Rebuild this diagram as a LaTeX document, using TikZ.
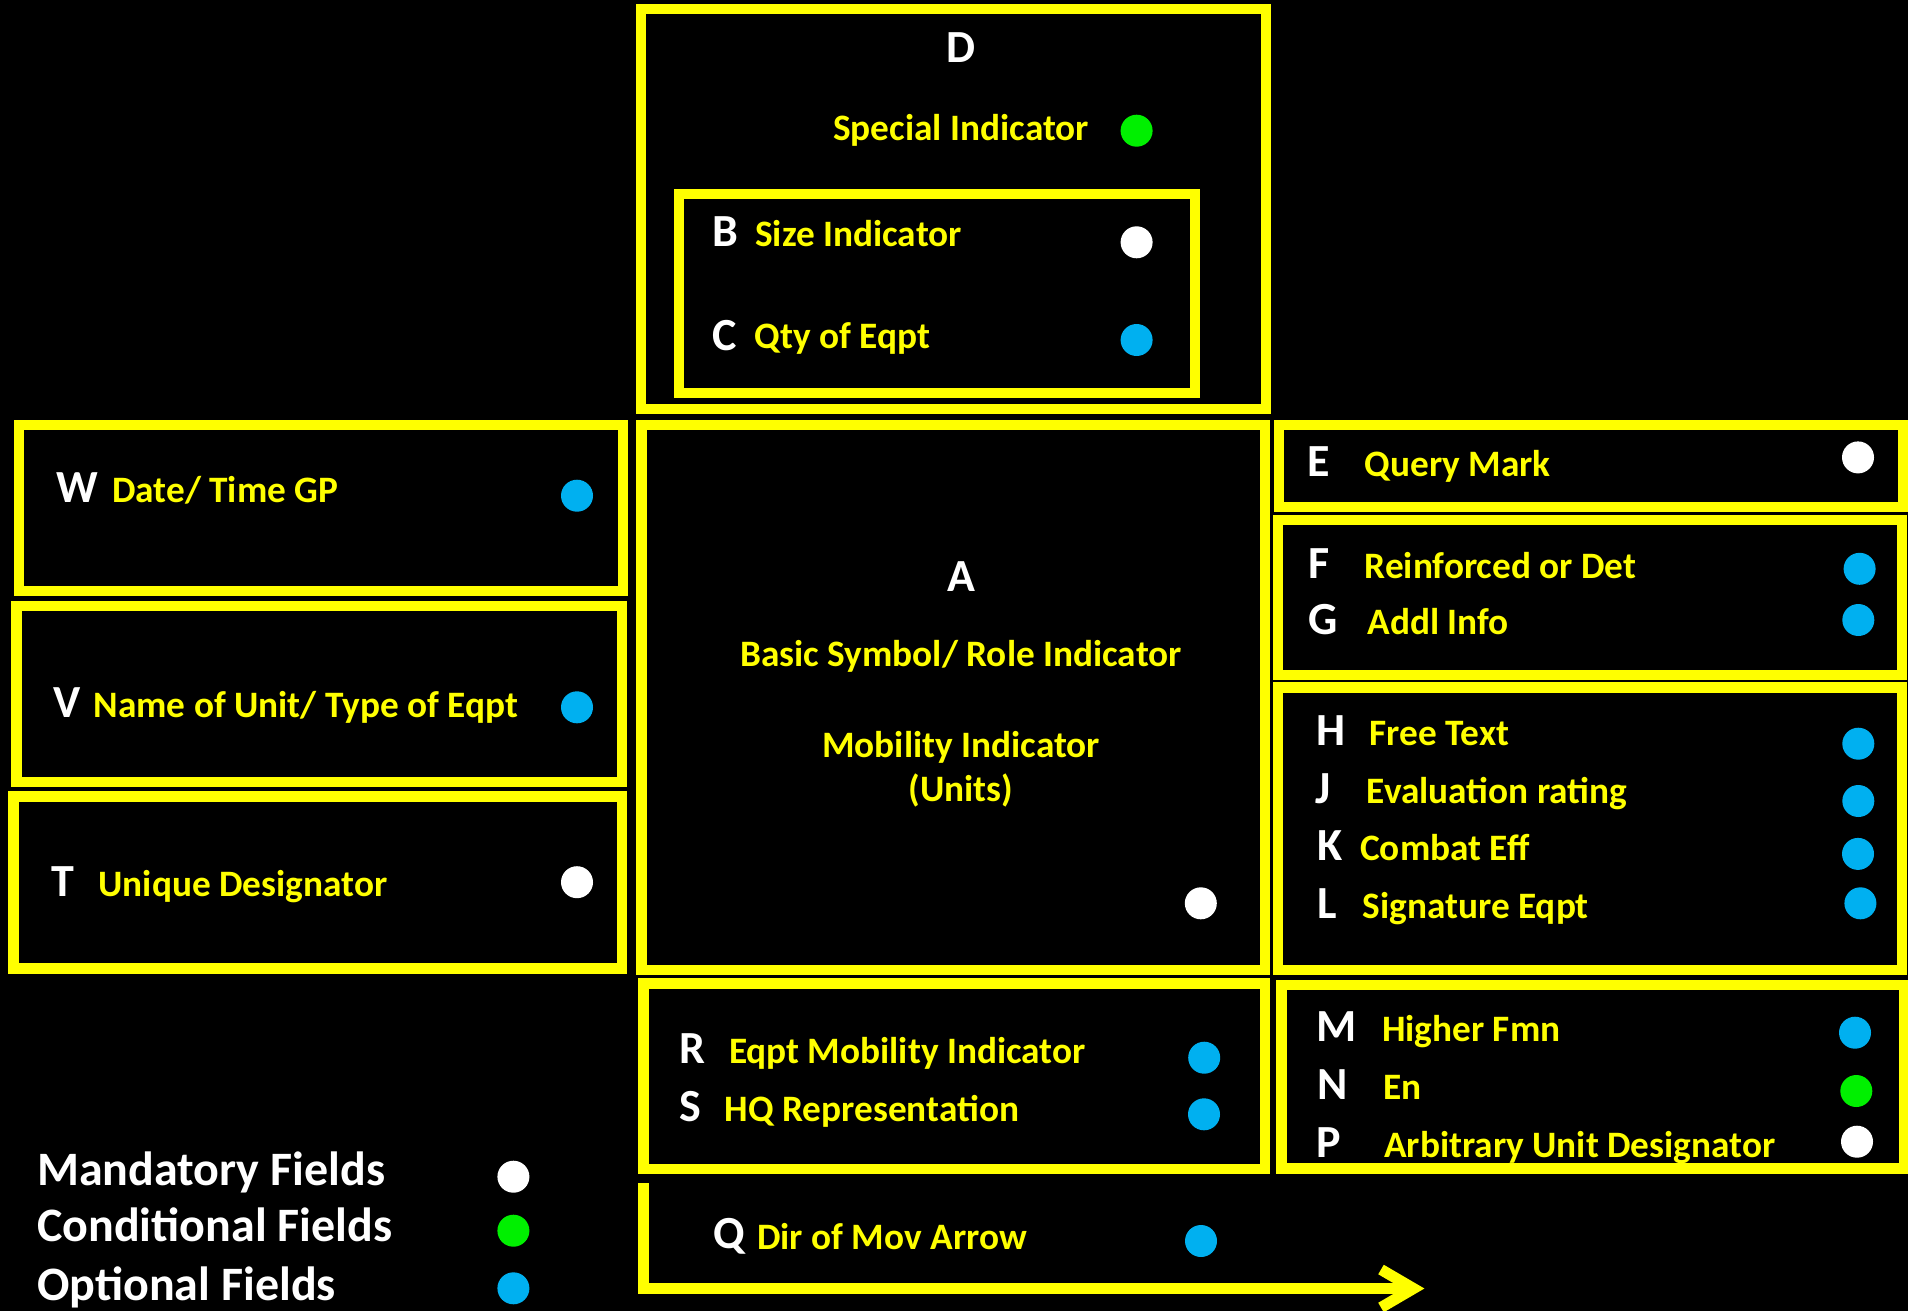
\documentclass[tikz,border=0pt]{standalone}
\usepackage{fontspec}
\setmainfont{Carlito}
\definecolor{ylw}{HTML}{FFFF00}
\definecolor{optblue}{HTML}{00B0F0}
\definecolor{condgreen}{HTML}{00F000}
\begin{document}
\begin{tikzpicture}[x=1pt,y=-1pt,
  fbox/.style={draw=ylw, line width=10.5pt, rectangle, inner sep=0pt, outer sep=0pt},
  lbl/.style={text=ylw, font=\fontsize{37.3}{41}\selectfont\bfseries, anchor=base west, inner sep=0pt},
  clbl/.style={lbl, anchor=base},
  ltr/.style={text=white, font=\fontsize{46}{50}\selectfont\bfseries, anchor=base, inner sep=0pt},
  legend/.style={text=white, font=\fontsize{48}{52}\selectfont\bfseries, anchor=base west, inner sep=0pt},
  dotbase/.style={circle, minimum size=32pt, inner sep=0pt},
  mand/.style={dotbase, fill=white},
  cond/.style={dotbase, fill=condgreen},
  opt/.style={dotbase, fill=optblue}]
\fill[black] (0,0) rectangle (1908,1311);
\useasboundingbox (0,0) rectangle (1908,1311);

% boxes
\node[fbox, minimum width=625pt, minimum height=400pt] (boxD) at (953.5,209) {};
\node[fbox, minimum width=516pt, minimum height=199pt] (boxBC) at (937,293.3) {};
\node[fbox, minimum width=604pt, minimum height=166pt] (boxW) at (321,508) {};
\node[fbox, minimum width=605.6pt, minimum height=176pt] (boxV) at (319.2,694) {};
\node[fbox, minimum width=608.5pt, minimum height=172.2pt] (boxT) at (317.8,882.6) {};
\node[fbox, minimum width=623.5pt, minimum height=545pt] (boxA) at (953.25,697.5) {};
\node[fbox, minimum width=624pt, minimum height=82pt] (boxE) at (1591,466) {};
\node[fbox, minimum width=624pt, minimum height=155pt] (boxFG) at (1590,597.5) {};
\node[fbox, minimum width=624pt, minimum height=282.4pt] (boxHL) at (1590,828.8) {};
\node[fbox, minimum width=621.5pt, minimum height=185.3pt] (boxRS) at (954.25,1076.35) {};
\node[fbox, minimum width=622.3pt, minimum height=183.7pt] (boxMP) at (1592.85,1076.85) {};

% D / B / C
\node[ltr] (tD) at (961,62.7) {D};
\node[lbl] (lD) at (833,140) {Special Indicator};
\node[cond] (dD) at (1136.6,130.7) {};
\node[ltr] (tB) at (725,246.7) {B};
\node[lbl] (lB) at (755,246.5) {Size Indicator};
\node[mand] (dB) at (1136.6,242.3) {};
\node[ltr] (tC) at (725,350) {C};
\node[lbl] (lC) at (754.4,348) {Qty of Eqpt};
\node[opt] (dC) at (1136.6,340) {};

% A
\node[ltr] (tA) at (961,591.4) {A};
\node[clbl] (lA1) at (961,666.7) {Basic Symbol/ Role Indicator};
\node[clbl] (lA2) at (961,757.8) {Mobility Indicator};
\node[clbl] (lA3) at (961,801.8) {(Units)};
\node[mand] (dA) at (1200.8,903.3) {};

% left column
\node[ltr] (tW) at (77.7,502.6) {W};
\node[lbl] (lW) at (112,502.6) {Date/ Time GP};
\node[opt] (dW) at (577,495.7) {};
\node[ltr] (tV) at (67,717.6) {V};
\node[lbl] (lV) at (93.3,717.6) {Name of Unit/ Type of Eqpt};
\node[opt] (dV) at (577,707.3) {};
\node[ltr] (tT) at (62.6,896.4) {T};
\node[lbl] (lT) at (98.3,896.4) {Unique Designator};
\node[mand] (dT) at (577,882.2) {};

% right column
\node[ltr] (tE) at (1319,476.5) {E};
\node[lbl] (lE) at (1364.5,476.5) {Query Mark};
\node[mand] (dE) at (1858,457.4) {};
\node[ltr] (tF) at (1319,578) {F};
\node[lbl] (lF) at (1364.5,578) {Reinforced or Det};
\node[opt] (dF) at (1859.6,568.8) {};
\node[ltr] (tG) at (1323,634.2) {G};
\node[lbl] (lG) at (1367.4,634.2) {Addl Info};
\node[opt] (dG) at (1858.3,620) {};
\node[ltr] (tH) at (1331,745.6) {H};
\node[lbl] (lH) at (1369.5,745.6) {Free Text};
\node[opt] (dH) at (1858.3,743.7) {};
\node[ltr] (tJ) at (1323,803) {J};
\node[lbl] (lJ) at (1366.6,803.7) {Evaluation rating};
\node[opt] (dJ) at (1858.3,801) {};
\node[ltr] (tK) at (1329.8,860.4) {K};
\node[lbl] (lK) at (1360,860.4) {Combat Eff};
\node[opt] (dK) at (1858,853.9) {};
\node[ltr] (tL) at (1327.4,918.6) {L};
\node[lbl] (lL) at (1362.5,918.6) {Signature Eqpt};
\node[opt] (dL) at (1860.4,903.3) {};
\node[ltr] (tM) at (1337,1041.7) {M};
\node[lbl] (lM) at (1381.9,1041.7) {Higher Fmn};
\node[opt] (dM) at (1855,1032.7) {};
\node[ltr] (tN) at (1332.7,1099.3) {N};
\node[lbl] (lN) at (1383,1099.3) {En};
\node[cond] (dN) at (1856.3,1091) {};
\node[ltr] (tP) at (1329.2,1157.3) {P};
\node[lbl] (lP) at (1384,1157.3) {Arbitrary Unit Designator};
\node[mand] (dP) at (1857,1141.7) {};

% R / S
\node[ltr] (tR) at (692.5,1063.3) {R};
\node[lbl] (lR) at (728.8,1063.3) {Eqpt Mobility Indicator};
\node[opt] (dR) at (1204.2,1057.7) {};
\node[ltr] (tS) at (690.6,1121.7) {S};
\node[lbl] (lS) at (724.6,1121.7) {HQ Representation};
\node[opt] (dS) at (1204,1114.3) {};

% Q and arrow
\node[ltr] (tQ) at (728.8,1248.3) {Q};
\node[lbl] (lQ) at (757,1249) {Dir of Mov Arrow};
\node[opt] (dQ) at (1201,1241) {};
\coordinate (q0) at (643.5,1183);
\coordinate (q1) at (643.5,1288.5);
\coordinate (qtip) at (1413.5,1288.5);
\coordinate (qarmA) at (1381,1269.5);
\coordinate (qarmB) at (1381,1307.5);
\draw[ylw, line width=11.5pt, line join=miter] (q0) -- (q1) -- (qtip);
\draw[ylw, line width=11pt, line join=miter, miter limit=10] (qarmA) -- (qtip) -- (qarmB);

% legend
\node[legend] (gM) at (37,1185) {Mandatory Fields};
\node[mand] (gdM) at (513.4,1176.7) {};
\node[legend] (gC) at (37,1241.7) {Conditional Fields};
\node[cond] (gdC) at (513.4,1230.7) {};
\node[legend] (gO) at (37,1300) {Optional Fields};
\node[opt] (gdO) at (513.4,1288.3) {};
\end{tikzpicture}
\end{document}
